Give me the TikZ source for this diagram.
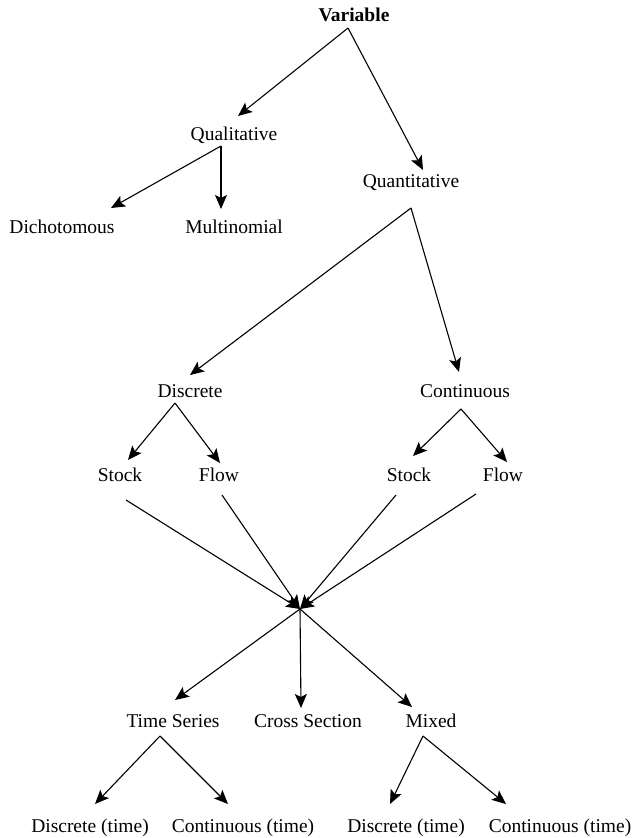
\documentclass[tikz,border=0pt]{standalone}
\usepackage{fontspec}
\setmainfont{Liberation Serif}
\usetikzlibrary{arrows.meta,calc}
\begin{document}
\begin{tikzpicture}[x=1pt,y=-1pt,
  lbl/.style={anchor=base,inner sep=0pt,font=\fontsize{19.5}{22}\selectfont},
  arr/.style={-{Stealth[length=14pt,width=12pt,inset=3pt]},line width=1.1pt},
  ln/.style={line width=1.1pt}]
\useasboundingbox (0,0) rectangle (634,838);
% nodes
\node[lbl] (var) at (354,21) {\textbf{Variable}};
\node[lbl] (qual) at (234,140) {Qualitative};
\node[lbl] (quant) at (411,187) {Quantitative};
\node[lbl] (dich) at (62,233) {Dichotomous};
\node[lbl] (multi) at (234,233) {Multinomial};
\node[lbl] (disc) at (190,397) {Discrete};
\node[lbl] (cont) at (465,397) {Continuous};
\node[lbl] (stockA) at (120,481) {Stock};
\node[lbl] (flowA) at (219,481) {Flow};
\node[lbl] (stockB) at (409,481) {Stock};
\node[lbl] (flowB) at (503,481) {Flow};
\coordinate (hub) at (300,609);
\node[lbl] (ts) at (173,727) {Time Series};
\node[lbl] (cs) at (308,727) {Cross Section};
\node[lbl] (mixed) at (431,727) {Mixed};
\node[lbl] (dtA) at (90,832) {Discrete (time)};
\node[lbl] (ctA) at (243,832) {Continuous (time)};
\node[lbl] (dtB) at (406,832) {Discrete (time)};
\node[lbl] (ctB) at (560,832) {Continuous (time)};
% connectors
\draw[arr] ($(var.base)+(-6,7)$) -- ($(qual.base)+(4,-24)$);
\draw[arr] ($(var.base)+(-6,7)$) -- ($(quant.base)+(12,-17)$);
\draw[arr] ($(qual.base)+(-13,6)$) -- ($(dich.base)+(49,-25)$);
\draw[arr] ($(qual.base)+(-13,6)$) -- ($(multi.base)+(-13,-24)$);
\draw[arr] ($(quant.base)+(0,21)$) -- ($(disc.base)+(0,-22)$);
\draw[arr] ($(quant.base)+(0,21)$) -- ($(cont.base)+(-6,-25)$);
\draw[arr] ($(disc.base)+(-15,6)$) -- ($(stockA.base)+(8,-21)$);
\draw[arr] ($(disc.base)+(-15,6)$) -- ($(flowA.base)+(1,-18)$);
\draw[arr] ($(cont.base)+(-4,12)$) -- ($(stockB.base)+(4,-25)$);
\draw[arr] ($(cont.base)+(-4,12)$) -- ($(flowB.base)+(4,-19)$);
\draw[arr] ($(stockA.base)+(6,19)$) -- (hub);
\draw[arr] ($(flowA.base)+(3,14)$) -- (hub);
\draw[arr] ($(stockB.base)+(-13,14)$) -- (hub);
\draw[arr] ($(flowB.base)+(-27,13)$) -- (hub);
\draw[arr] (hub) -- ($(ts.base)+(2,-27)$);
\draw[arr] (hub) -- ($(cs.base)+(-7,-19)$);
\draw[arr] (hub) -- ($(mixed.base)+(-19,-20)$);
\draw[arr] ($(ts.base)+(-13,9)$) -- ($(dtA.base)+(5,-28)$);
\draw[arr] ($(ts.base)+(-13,9)$) -- ($(ctA.base)+(-15,-28)$);
\draw[arr] ($(mixed.base)+(-8,9)$) -- ($(dtB.base)+(-16,-28)$);
\draw[arr] ($(mixed.base)+(-8,9)$) -- ($(ctB.base)+(-54,-28)$);
\end{tikzpicture}
\end{document}
